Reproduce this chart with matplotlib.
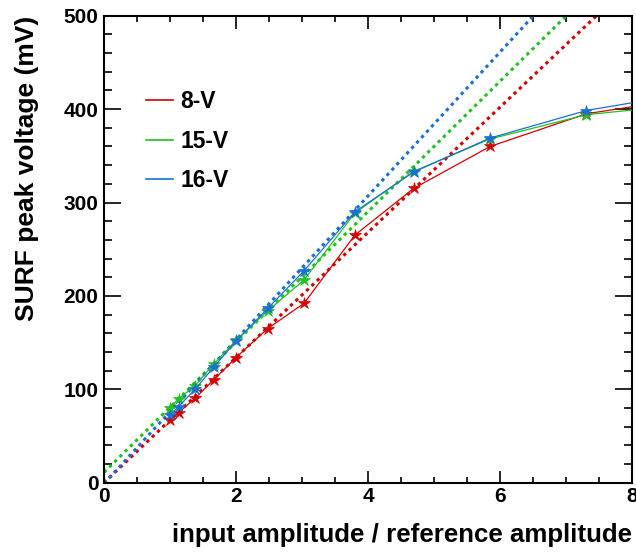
import numpy as np
import matplotlib.pyplot as plt
from matplotlib.ticker import MultipleLocator

plt.rcParams['font.family'] = ['Liberation Sans', 'DejaVu Sans']
plt.rcParams['font.weight'] = 'bold'

# amplitude ratios (last point lies past the right edge)
ratio = [1.0, 1.13, 1.38, 1.66, 2.0, 2.48, 3.03, 3.8, 4.69, 5.85, 7.31, 9.1]

# peak voltages (mV) per channel
v_8 = [66.6, 75, 90.5, 110, 134, 165, 192, 265, 315, 360, 395, 414.5]
v_15 = [80.4, 89.7, 104, 126.8, 152.4, 184, 217, 288.8, 333.3, 368, 394, 407]
v_16 = [72.3, 81.5, 100, 123.6, 151.4, 186.6, 226.8, 290, 332.6, 369, 398.5, 420]

# linear extrapolation of the low amplitude response: (slope, offset)
fit_8 = (67.0, 0.0)
fit_15 = (69.8, 11.0)
fit_16 = (77.0, -1.0)

labels = ['8-V', '15-V', '16-V']
colors = ['#d40000', '#1fc21f', '#1a6fd6']

fig = plt.figure(figsize=(6.36, 5.52), dpi=100)
ax = fig.add_axes([104 / 636, 1 - 482.7 / 552, 528 / 636, 467 / 552])

xfit = np.array([0.0, 8.0])
for vals, fit, lab, col in zip([v_8, v_15, v_16], [fit_8, fit_15, fit_16], labels, colors):
    ax.plot(xfit, fit[0] * xfit + fit[1], color=col, lw=2.2,
            linestyle=(0, (1.1, 1.3)), zorder=2)
    ax.plot(ratio, vals, color=col, lw=0.9, marker='*', markersize=9,
            markeredgewidth=0.5, label=lab, zorder=3)

ax.set_xlim(0, 8)
ax.set_ylim(0, 500)

ax.xaxis.set_major_locator(MultipleLocator(2))
ax.xaxis.set_minor_locator(MultipleLocator(0.5))
ax.yaxis.set_major_locator(MultipleLocator(100))
ax.yaxis.set_minor_locator(MultipleLocator(20))
ax.tick_params(which='both', direction='in', top=True, right=True, labelsize=15, width=1.2)
ax.tick_params(axis='x', which='major', length=9, pad=3)
ax.tick_params(axis='x', which='minor', length=4.5)
ax.tick_params(axis='y', which='major', length=12, pad=4)
ax.tick_params(axis='y', which='minor', length=6)
for s in ax.spines.values():
    s.set_linewidth(1.5)

ax.set_xlabel('input amplitude / reference amplitude', fontsize=18.6, fontweight='bold',
              loc='right', labelpad=12)
ax.set_ylabel('SURF peak voltage (mV)', fontsize=19, fontweight='bold',
              loc='top', labelpad=17.5)

leg = ax.legend(handles=[plt.Line2D([], [], color=c, lw=1.2) for c in colors], labels=labels,
                loc='upper left', bbox_to_anchor=(0.08, 0.84), frameon=False,
                fontsize=16.5, handlelength=1.15, handletextpad=0.35, labelspacing=0.72,
                borderpad=0, borderaxespad=0)
for t in leg.get_texts():
    t.set_fontweight('bold')

fig.savefig('out.png', dpi=100)
